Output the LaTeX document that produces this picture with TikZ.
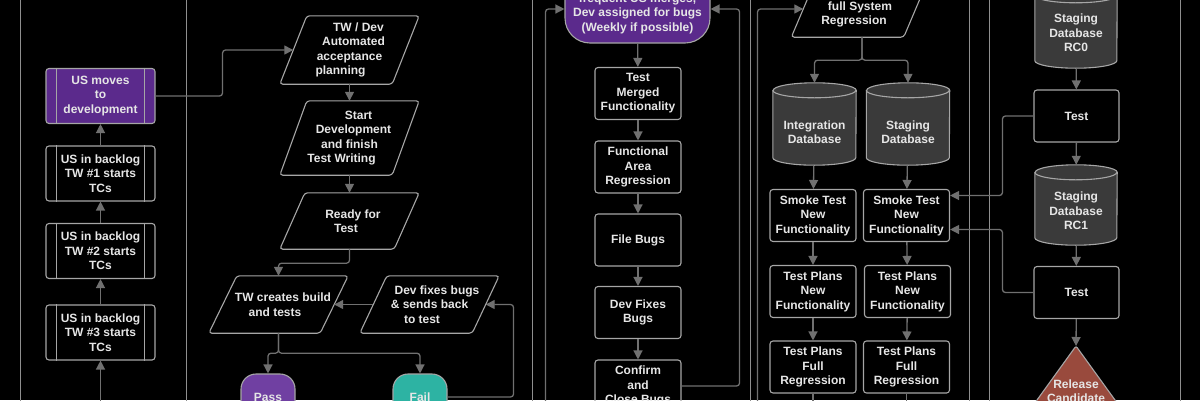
\documentclass[tikz,border=0pt]{standalone}
\usepackage{fontspec}
\setmainfont{Liberation Sans}
\usetikzlibrary{arrows.meta,calc}
\definecolor{lane}{HTML}{8F8F8F}
\definecolor{conn}{HTML}{707070}
\definecolor{bord}{HTML}{A6A6A6}
\definecolor{txt}{HTML}{E6E6E6}
\definecolor{purpA}{HTML}{5B2A8C}
\definecolor{purpB}{HTML}{7040A2}
\definecolor{tealc}{HTML}{2DB3A3}
\definecolor{rust}{HTML}{994A3D}
\definecolor{dbfill}{HTML}{3A3A3A}
\tikzset{
  lbl/.style={font=\bfseries\fontsize{12}{14.5}\selectfont, text=txt, align=center},
  box/.style={lbl, draw=bord, line width=1.1pt, rounded corners=3pt, minimum width=86pt, minimum height=52pt, inner sep=1pt},
  pbox/.style={box, minimum width=109pt, minimum height=55pt},
  paraframe/.style={lbl, rectangle, inner sep=0pt, minimum width=139pt},
  dbframe/.style={rectangle, inner sep=0pt, minimum width=83pt, minimum height=82pt},
  outl/.style={draw=bord, line width=1.1pt},
  arr/.style={draw=conn, line width=1.3pt, rounded corners=3pt, -{Triangle[length=9pt,width=9pt]}},
  lanes/.style={draw=lane, line width=1pt},
  term/.style={lbl, draw=bord, line width=1.1pt, rounded corners=15pt, minimum width=54pt, minimum height=46pt},
}
% parallelogram outline drawn on a rectangular frame node: #1 name, #2 slant
\newcommand\paraoutline[2]{%
  \draw[outl, rounded corners=3pt] ([xshift=#2pt]#1.north west) -- (#1.north east)
     -- ([xshift=-#2pt]#1.south east) -- (#1.south west) -- cycle;}
% cylinder drawn on a rectangular frame node: #1 name, #2 x radius
\newcommand\cyloutline[2]{%
  \draw[outl, fill=dbfill] ([yshift=-7.5pt]#1.north west) -- ([yshift=7.5pt]#1.south west)
     arc[start angle=180, end angle=360, x radius=#2pt, y radius=7.5pt]
     -- ([yshift=-7.5pt]#1.north east)
     arc[start angle=0, end angle=180, x radius=#2pt, y radius=7.5pt] -- cycle;
  \draw[outl] ([yshift=-7.5pt]#1.north west)
     arc[start angle=180, end angle=360, x radius=#2pt, y radius=7.5pt];}
\newcommand\innerbars[1]{%
  \draw[outl] ([xshift=11pt]#1.north west) -- ([xshift=11pt]#1.south west);
  \draw[outl] ([xshift=-11pt]#1.north east) -- ([xshift=-11pt]#1.south east);}
\begin{document}
\begin{tikzpicture}[x=1pt, y=-1pt]
\fill[black] (0,0) rectangle (1200,400);
\useasboundingbox (0,0) rectangle (1200,400);
% lanes
\foreach \lx in {20.5,186.5,532,750,969,989,1180}
  \draw[lanes] (\lx,-5) -- (\lx,405);

% column 1
\node[pbox, fill=purpA] (usm) at (100.5,96) {US moves\\to\\development};
\node[pbox] (tw1) at (100.5,173.5) {US in backlog\\TW \#1 starts\\TCs};
\node[pbox] (tw2) at (100.5,251) {US in backlog\\TW \#2 starts\\TCs};
\node[pbox] (tw3) at (100.5,332.5) {US in backlog\\TW \#3 starts\\TCs};
\innerbars{usm}\innerbars{tw1}\innerbars{tw2}\innerbars{tw3}
\coordinate (in1) at (100.5,412);

% column 2
\node[paraframe, minimum height=68pt] (p1) at (349.5,50) {\hspace*{18pt}TW / Dev\\\hspace*{8pt}Automated\\acceptance\hspace*{4pt}\\planning\hspace*{18pt}};
\paraoutline{p1}{27}
\node[paraframe, minimum height=74pt] (p2) at (349.5,138) {\hspace*{18pt}Start\\\hspace*{8pt}Development\\and finish\hspace*{4pt}\\Test Writing\hspace*{16pt}};
\paraoutline{p2}{27}
\node[paraframe, minimum height=56pt] (p3) at (349.5,221) {\hspace*{7pt}Ready for\\Test\hspace*{7pt}};
\paraoutline{p3}{25}
\node[paraframe, minimum height=57pt] (tw) at (278.5,304.5) {\hspace*{9pt}TW creates build\\and tests\hspace*{7pt}};
\paraoutline{tw}{28}
\node[paraframe, minimum height=57pt] (dev) at (429.5,304.5) {\hspace*{15pt}Dev fixes bugs\\\& sends back\\to test\hspace*{15pt}};
\paraoutline{dev}{27}
\node[term, fill=purpB] (pass) at (268,397) {Pass};
\node[term, fill=tealc] (fail) at (420,397) {Fail};

% column 3
\node[lbl, draw=bord, line width=1.1pt, fill=purpA, rounded corners=25pt, minimum width=145pt, minimum height=68pt] (stad) at (637.5,9) {};
\node[lbl] (stadtxt) at (637.5,13.5) {frequent US merges,\\Dev assigned for bugs\\(Weekly if possible)};
\node[box] (tmf) at (638,93.5) {Test\\Merged\\Functionality};
\node[box] (far) at (638,167) {Functional\\Area\\Regression};
\node[box] (fb) at (638,240) {File Bugs};
\node[box] (dfb) at (638,312.5) {Dev Fixes\\Bugs};
\node[box] (ccb) at (638,386) {Confirm\\and\\Close Bugs};
\coordinate (lp1) at (545.5,412);

% column 4
\node[paraframe, minimum height=68pt, minimum width=141pt] (fsr) at (862,3) {};
\paraoutline{fsr}{29}
\node[lbl] (fsrtxt) at (857,14.5) {\hspace*{6pt}full System\\Regression\hspace*{6pt}};
\node[dbframe] (intdb) at (814.5,124) {};
\cyloutline{intdb}{41.5}
\node[lbl] (intdbtxt) at (814.5,132) {Integration\\Database};
\node[dbframe] (stgdb) at (908,124) {};
\cyloutline{stgdb}{41.5}
\node[lbl] (stgdbtxt) at (908,132) {Staging\\Database};
\node[box] (smk1) at (813,215.5) {Smoke Test\\New\\Functionality};
\node[box] (smk2) at (906.5,215.5) {Smoke Test\\New\\Functionality};
\node[box] (tpn1) at (813,291.5) {Test Plans\\New\\Functionality};
\node[box] (tpn2) at (907.5,291.5) {Test Plans\\New\\Functionality};
\node[box] (tpf1) at (813,367) {Test Plans\\Full\\Regression};
\node[box] (tpf2) at (906.5,367) {Test Plans\\Full\\Regression};
\coordinate (lp2) at (757.5,412);
\coordinate (out1) at (813,415);
\coordinate (out2) at (906.5,415);

% column 5
\node[dbframe, minimum width=82pt, minimum height=80pt] (rc0) at (1076,28) {};
\cyloutline{rc0}{41}
\node[lbl] (rc0txt) at (1076,33) {Staging\\Database\\RC0};
\node[box, minimum width=85pt] (t1) at (1076.5,116) {Test};
\node[dbframe, minimum width=82pt, minimum height=80pt] (rc1) at (1076,205) {};
\cyloutline{rc1}{41}
\node[lbl] (rc1txt) at (1076,211) {Staging\\Database\\RC1};
\node[box, minimum width=85pt] (t2) at (1076.5,292.5) {Test};
\coordinate (rc) at (1076,346);
\draw[outl, fill=rust, rounded corners=2pt] (rc) -- ++(65,90) -- ++(-130,0) -- cycle;
\node[lbl] (rctxt) at (1076,391) {Release\\Candidate};

% connectors column 1
\draw[arr] (in1) -- (tw3);
\draw[arr] (tw3) -- (tw2);
\draw[arr] (tw2) -- (tw1);
\draw[arr] (tw1) -- (usm);
\draw[arr] (usm.east) -- ++(67,0) |- ([xshift=13.5pt]p1.west);
% column 2
\draw[arr] (p1) -- (p2);
\draw[arr] (p2) -- (p3);
\draw[arr] (p3.south) -- ++(0,14) -| (tw);
\draw[arr] ([xshift=13.5pt]dev.west) -- ([xshift=-14pt]tw.east);
\draw[arr] (tw.south) -- ++(0,20) -| (pass);
\draw[arr] (tw.south) -- ++(0,20) -| (fail);
\draw[arr] (fail.east) -- ++(66,0) |- ([xshift=-13.5pt]dev.east);
% column 3
\draw[arr] (stad) -- (tmf);
\draw[arr] (tmf) -- (far);
\draw[arr] (far) -- (fb);
\draw[arr] (fb) -- (dfb);
\draw[arr] (dfb) -- (ccb);
\draw[arr] (lp1) |- (stad.west);
\draw[arr] (ccb.east) -- ++(58,0) |- (stad.east);
% column 4
\draw[arr] (lp2) |- ([xshift=12pt,yshift=-6pt]fsr.west);
\draw[arr] (fsr.south) -- ++(0,23) -| (intdb);
\draw[arr] (fsr.south) -- ++(0,23) -| (stgdb);
\draw[arr] (intdb) -- (smk1);
\draw[arr] (stgdb) -- (smk2);
\draw[arr] (smk1) -- (tpn1);
\draw[arr] (smk2) -- (tpn2);
\draw[arr] (tpn1) -- (tpf1);
\draw[arr] (tpn2) -- (tpf2);
\draw[arr] (tpf1) -- (out1);
\draw[arr] (tpf2) -- (out2);
% column 5
\draw[arr] (rc0) -- (t1);
\draw[arr] (t1) -- (rc1);
\draw[arr] (rc1) -- (t2);
\draw[arr] (t2) -- (rc);
\draw[arr] (t1.west) -- ++(-31,0) |- ([yshift=20pt]smk2.east);
\draw[arr] (t2.west) -- ++(-31,0) |- ([yshift=-14pt]smk2.east);
\end{tikzpicture}
\end{document}
